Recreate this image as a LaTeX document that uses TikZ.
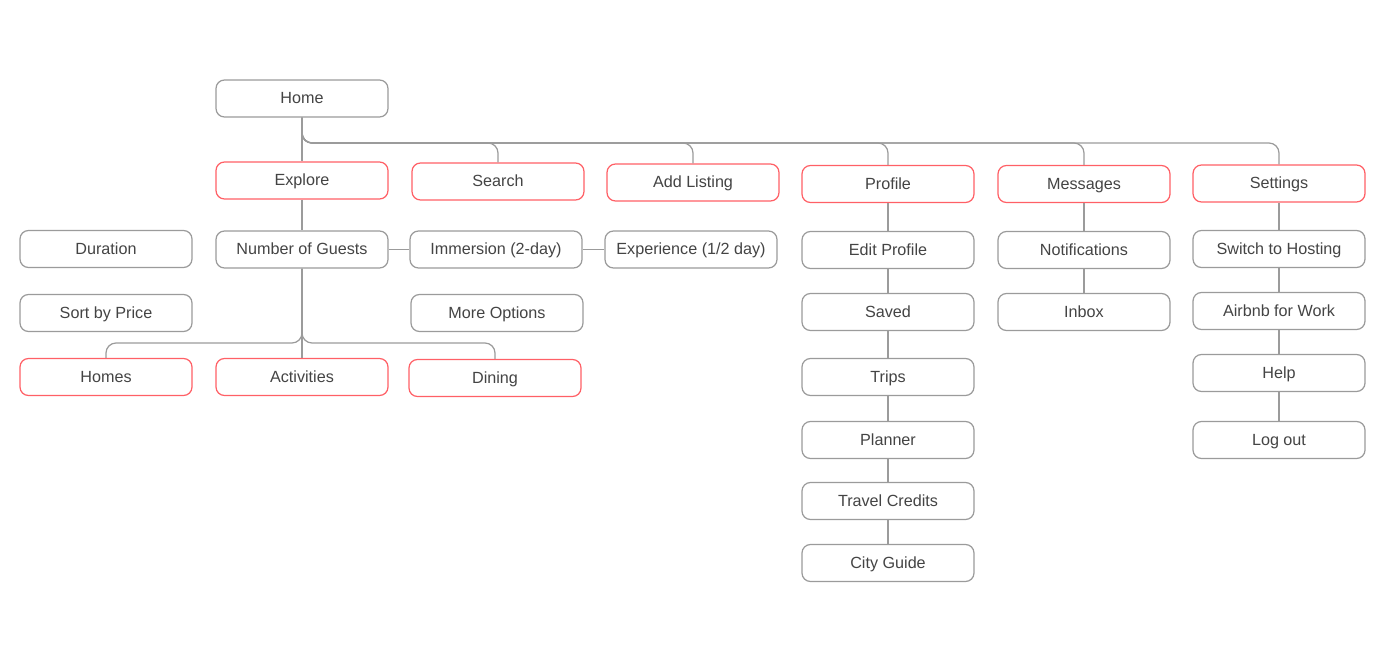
\documentclass[tikz,border=0pt]{standalone}
\usepackage{fontspec}
\setmainfont{Liberation Sans}
\usetikzlibrary{positioning}

\definecolor{boxgray}{RGB}{155,155,155}
\definecolor{boxred}{RGB}{255,96,102}
\definecolor{txtgray}{RGB}{68,68,68}

\begin{document}
\begin{tikzpicture}[x=0.2mm, y=-0.2mm,
  page/.style={draw=boxgray, fill=white, rounded corners=1.7mm, line width=0.7pt,
    minimum width=34.4mm, minimum height=7.4mm, text=txtgray,
    text height=1.6ex, text depth=0.45ex,
    font=\fontsize{9.2}{10}\selectfont},
  main/.style={page, draw=boxred},
  link/.style={draw=boxgray, line width=0.7pt, rounded corners=2mm}]
  \useasboundingbox (0,0) rectangle (1398,660);

  % Top level
  \node[page] (home) at (302,98.5) {Home};
  \node[main] (explore) at (302,180.5) {Explore};
  \node[main] (search) at (498,181.5) {Search};
  \node[main] (listing) at (693,182.5) {Add Listing};
  \node[main] (profile) at (888,184) {Profile};
  \node[main] (messages) at (1084,184) {Messages};
  \node[main] (settings) at (1279,183.5) {Settings};

  % Explore branch
  \node[page] (duration) at (106,249) {Duration};
  \node[page] (sortprice) at (106,313) {Sort by Price};
  \node[page] (guests) at (302,249.5) {Number of Guests};
  \node[page] (immersion) at (496,249.5) {Immersion (2-day)};
  \node[page] (experience) at (691,249.5) {Experience (1/2 day)};
  \node[page] (moreopts) at (497,313) {More Options};
  \node[main] (homes) at (106,377) {Homes};
  \node[main] (activities) at (302,377) {Activities};
  \node[main] (dining) at (495,378) {Dining};

  % Profile branch
  \node[page] (editprofile) at (888,250) {Edit Profile};
  \node[page] (saved) at (888,312) {Saved};
  \node[page] (trips) at (888,377) {Trips};
  \node[page] (planner) at (888,440) {Planner};
  \node[page] (credits) at (888,501) {Travel Credits};
  \node[page] (cityguide) at (888,563) {City Guide};

  % Messages branch
  \node[page] (notifs) at (1084,250) {Notifications};
  \node[page] (inbox) at (1084,312) {Inbox};

  % Settings branch
  \node[page] (hosting) at (1279,249) {Switch to Hosting};
  \node[page] (work) at (1279,311) {Airbnb for Work};
  \node[page] (help) at (1279,373) {Help};
  \node[page] (logout) at (1279,440) {Log out};

  % Connectors
  \coordinate (bus) at (302,143);
  \coordinate (guestbus) at (302,343);
  \draw[link] (home) -- (explore);
  \foreach \n in {search, listing, profile, messages, settings} {
    \draw[link] (home.south) |- (bus -| \n.north) -- (\n.north);
  }
  \draw[link] (explore) -- (guests);
  \draw[link] (guests) -- (immersion);
  \draw[link] (immersion) -- (experience);
  \draw[link] (guests) -- (activities);
  \foreach \n in {homes, dining} {
    \draw[link] (guests.south) |- (guestbus -| \n.north) -- (\n.north);
  }
  \foreach \a/\b in {profile/editprofile, editprofile/saved, saved/trips,
      trips/planner, planner/credits, credits/cityguide,
      messages/notifs, notifs/inbox,
      settings/hosting, hosting/work, work/help, help/logout} {
    \draw[link] (\a) -- (\b);
  }

\end{tikzpicture}
\end{document}
